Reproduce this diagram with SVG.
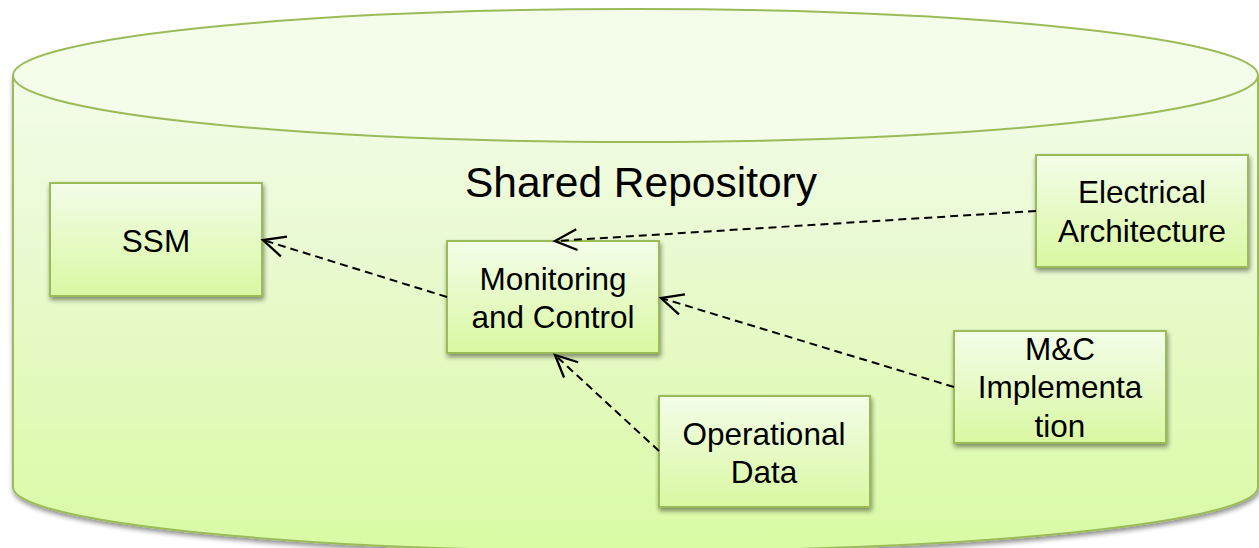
<svg xmlns="http://www.w3.org/2000/svg" width="1259" height="548" viewBox="0 0 1259 548">
<style>
.box{fill:url(#boxg);stroke:#9bbb59;stroke-width:2;filter:url(#sh)}
.lbl{font-family:"Liberation Sans",Arial,sans-serif;font-size:31.5px;fill:#000;text-anchor:middle}
.conn{fill:none;stroke:#000;stroke-width:2;stroke-dasharray:8 5;marker-end:url(#open)}
</style>
<defs>
<linearGradient id="cylg" x1="0" y1="0" x2="0" y2="1">
<stop offset="0" stop-color="#f3fde9"/>
<stop offset="0.3" stop-color="#ebfad6"/>
<stop offset="1" stop-color="#dafaa4"/>
</linearGradient>
<linearGradient id="boxg" x1="0" y1="0" x2="0" y2="1">
<stop offset="0" stop-color="#f3fde9"/>
<stop offset="1" stop-color="#d9f8a2"/>
</linearGradient>
<filter id="sh" x="-10%" y="-10%" width="125%" height="130%">
<feGaussianBlur in="SourceAlpha" stdDeviation="2.5"/>
<feOffset dx="1" dy="3" result="b"/>
<feComponentTransfer><feFuncA type="linear" slope="0.45"/></feComponentTransfer>
<feMerge><feMergeNode/><feMergeNode in="SourceGraphic"/></feMerge>
</filter>
<marker id="open" markerUnits="userSpaceOnUse" markerWidth="30" markerHeight="30" viewBox="-22 -12 26 24" refX="0" refY="0" orient="auto">
<path d="M-19,-9 L0,0 L-19,9" fill="none" stroke="#000" stroke-width="2"/>
</marker>
</defs>
<g id="repository">
<path d="M13,75.5 L13,487 A622.5,64 0 0 0 1258,487 L1258,75.5 Z" fill="url(#cylg)" stroke="#9bbb59" stroke-width="2" filter="url(#sh)"/>
<ellipse cx="635.5" cy="75.5" rx="622.5" ry="66.5" fill="#f3fdea" stroke="#9bbb59" stroke-width="2"/>
<text class="lbl" x="641" y="197" style="font-size:42.5px">Shared Repository</text>
</g>
<g id="ssm">
<rect class="box" x="50" y="183" width="212" height="113"/>
<text class="lbl" x="156" y="252">SSM</text>
</g>
<g id="monitoring-control">
<rect class="box" x="447" y="241" width="212" height="112"/>
<text class="lbl" x="553" y="290">Monitoring</text>
<text class="lbl" x="553" y="328">and Control</text>
</g>
<g id="electrical-architecture">
<rect class="box" x="1036" y="155" width="212" height="112"/>
<text class="lbl" x="1142" y="203">Electrical</text>
<text class="lbl" x="1142" y="242">Architecture</text>
</g>
<g id="mc-implementation">
<rect class="box" x="954" y="331" width="212" height="112"/>
<text class="lbl" x="1060" y="360">M&amp;C</text>
<text class="lbl" x="1060" y="398">Implementa</text>
<text class="lbl" x="1060" y="437">tion</text>
</g>
<g id="operational-data">
<rect class="box" x="659" y="396" width="211" height="111"/>
<text class="lbl" x="764" y="445">Operational</text>
<text class="lbl" x="764" y="483">Data</text>
</g>
<g id="connectors">
<line class="conn" x1="447" y1="297" x2="263" y2="240"/>
<line class="conn" x1="1036" y1="211" x2="555" y2="241"/>
<line class="conn" x1="954" y1="387" x2="661" y2="298"/>
<line class="conn" x1="659" y1="451" x2="555" y2="355"/>
</g>
</svg>
